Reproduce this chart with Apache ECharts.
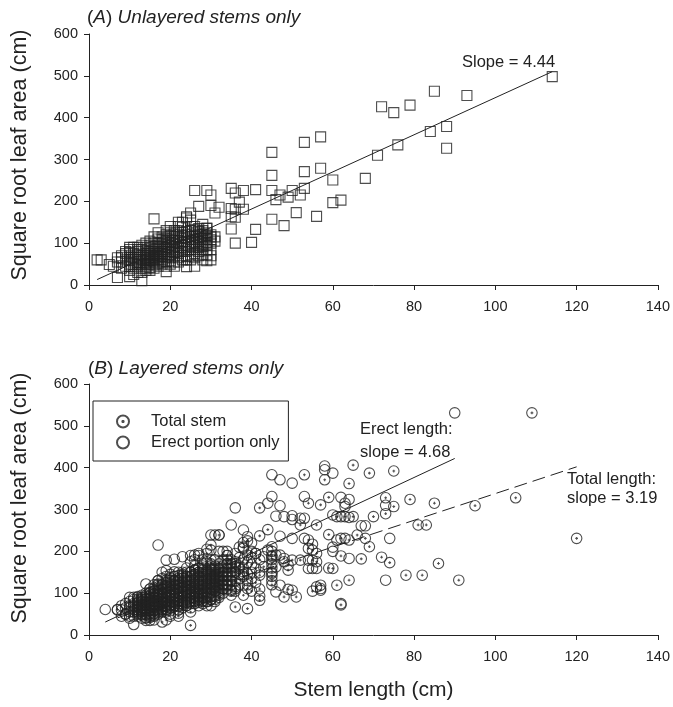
<!DOCTYPE html>
<html><head><meta charset="utf-8">
<script src="https://cdn.jsdelivr.net/npm/echarts@6/dist/echarts.min.js"></script>
<style>html,body{margin:0;padding:0;background:#fff}#c{width:673px;height:707px}</style>
</head><body><div id="c"></div>
<script>
// ---------- DATA ----------
const xTickValues = [0, 20, 40, 60, 80, 100, 120, 140];
const yTickValues = [0, 100, 200, 300, 400, 500, 600];

// Panel A: unlayered stems (stem length, sqrt leaf area)
const unlayeredSparse = [[2,60],[3,60],[5,49],[7,18],[13,10],[16,158],[24,163],[25,172],[26,226],[27,188],[29,226],[30,215],[30,190],[31,172],[32,186],[29,136],[35,231],[36,220],[38,226],[41,228],[37,198],[38,181],[36,181],[35,183],[35,163],[36,162],[35,134],[36,100],[40,102],[41,133],[45,317],[45,262],[45,226],[45,157],[46,204],[47,215],[48,142],[49,210],[50,226],[51,173],[52,215],[53,271],[53,231],[53,341],[56,164],[57,354],[57,279],[60,251],[60,197],[62,203],[68,255],[71,310],[72,426],[75,412],[79,430],[76,335],[85,463],[84,367],[88,379],[88,327],[93,453],[114,498]];
const unlayeredDenseCols = [[6,[45]],[7,[55,65]],[8,[40,55,65,70]],[9,[45,60,75,80]],[10,[20,35,45,50,60,65,70,78,85,90]],[11,[25,40,55,65,75,90]],[12,[30,45,50,55,60,65,72,80,85,90]],[13,[30,40,50,60,70,85,95]],[14,[35,40,45,50,55,60,65,70,75,82,90,100]],[15,[35,42,50,55,60,65,70,75,80,88,95,105]],[16,[40,48,55,60,65,70,75,80,85,92,100,115]],[17,[45,52,60,65,70,75,80,88,95,100,110,125]],[18,[50,55,60,68,75,80,85,92,100,108,115]],[19,[32,45,55,65,72,80,85,90,98,105,112,120,130]],[20,[50,58,65,72,80,88,95,102,110,118,125,140]],[21,[45,55,70,78,85,92,100,108,115,122,130]],[22,[55,65,75,82,90,98,105,112,120,130,140,150]],[23,[60,70,80,88,95,102,110,118,125,138,150]],[24,[44,60,70,80,90,98,105,112,120,128,160]],[25,[60,72,85,92,100,108,115,122,130,140,155]],[26,[45,65,75,85,95,102,110,118,125,132,140]],[27,[70,80,90,98,105,112,120,128,135]],[28,[60,72,85,92,100,108,115,122,130,145]],[29,[58,72,85,95,102,110,118,125,135]],[30,[60,70,85,100,108,115,120]],[31,[105,115]]];
const unlayeredFit = [[2,13],[114,510]];

// Panel B: layered stems
const totalDenseCols = [[7,[61]],[9,[50]],[10,[45,65,80]],[11,[55,70,85]],[12,[45,52,60,68,75,82,90]],[13,[50,58,65,72,80,88,95]],[14,[40,48,55,62,70,78,85,92,100]],[15,[35,42,50,58,65,72,80,88,95,102,110]],[16,[36,45,52,60,68,75,82,90,98,105]],[17,[50,58,65,72,80,88,95,105,115,122,130]],[18,[31,55,62,70,78,85,92,100,110,120]],[19,[36,60,68,75,82,90,100,110,118,125]],[20,[50,58,65,72,80,88,95,105,115,125,135]],[21,[70,78,85,92,100,110,120,130,140]],[22,[45,52,60,68,75,82,90,100,110,120,130]],[23,[65,72,80,88,95,105,115,125,135,142,150]],[24,[70,78,85,95,105,115,125,132,140]],[25,[23,55,65,75,82,90,100,110,120,130,140,150]],[26,[80,88,95,105,115,125,135,145,155,180]],[27,[70,78,85,92,100,110,120,130,140,150,160,190]],[28,[75,82,90,100,110,120,130,140,150,160,170]],[29,[80,88,95,105,115,125,135,145,155,195]],[30,[70,85,100,110,120,130,140,150,160,170,180,215]],[31,[85,95,105,115,125,135,145,155,165]],[32,[90,100,110,120,130,140,150,160,170,239]],[33,[100,110,120,130,140,150,160]],[34,[110,120,130,140,150,160,170,180,190]],[35,[95,108,120,130,140,150,160,170,180]],[36,[67,105,111,130,150,170]],[37,[120,145,165,185]],[38,[95,140,151,160,210]],[39,[63,111,120,147,173,225]],[40,[105,135,169,200]],[41,[125,160,195]],[42,[83,93,110,143,150,180,237,304]],[43,[163]],[44,[252]],[45,[120,130,140,150,160,170,180,190,200,211]]];
const totalSparse = [[46,163],[46,191],[48,91],[48,183],[49,109],[49,155],[49,167],[50,107],[50,179],[51,91],[52,179],[52,263],[53,383],[54,207],[54,227],[54,315],[55,105],[55,179],[55,203],[55,217],[56,115],[56,175],[56,195],[56,263],[57,107],[57,119],[57,311],[58,371],[59,160],[59,240],[59,329],[60,159],[61,119],[61,283],[62,231],[62,72],[62,189],[63,283],[64,131],[64,227],[64,362],[65,283],[65,406],[66,239],[67,182],[68,231],[69,211],[69,387],[70,283],[72,186],[73,290],[73,328],[74,173],[75,307],[75,392],[78,143],[79,324],[81,263],[82,143],[83,263],[85,315],[86,171],[91,131],[95,309],[105,328],[109,531],[120,231]];
const erectDenseCols = [[7,[60]],[8,[45,60,70]],[9,[50,65,75]],[10,[40,55,70,90]],[11,[45,60,75,90]],[12,[50,55,60,65,70,78,85,92]],[13,[40,48,55,60,65,72,80,85,90]],[14,[35,42,50,58,65,70,75,85,95,122]],[15,[45,52,60,65,70,78,85,92,100,110]],[16,[50,58,65,70,75,82,90,98,105,112,120]],[17,[55,62,70,75,80,88,95,102,110,120,130,215]],[18,[60,68,75,80,85,92,100,110,120,135,150]],[19,[55,62,70,80,90,98,105,115,125,132,140,154,179]],[20,[45,65,72,80,88,95,102,110,120,130,138,145]],[21,[70,78,85,92,100,110,120,130,140,151,181]],[22,[60,70,80,88,95,105,115,125,135,142,150]],[23,[75,82,90,98,105,115,125,135,145,187]],[24,[70,78,85,92,100,110,120,130,140,150,160]],[25,[80,88,95,102,110,120,130,140,150,175,190]],[26,[75,82,90,98,105,115,125,135,145,155,165,191]],[27,[85,92,100,110,120,130,140,150,160,195]],[28,[80,88,95,105,115,125,135,145,155,165,180]],[29,[70,80,90,100,110,120,130,140,150,175,205]],[30,[85,92,100,112,125,135,145,155,165,203,239]],[31,[80,92,105,112,120,130,140,150,160,180,239]],[32,[95,105,115,125,135,145,155,200,239]],[33,[110,120,130,140,150,165,180,200]],[34,[120,145,170,190,200]],[35,[105,130,165,263]],[36,[115,150,163,175,195,304]],[37,[135,160,210]],[38,[145,180,207,221,251]],[39,[130,191,235]],[40,[150,185,220]]];
const erectSparse = [[4,61],[11,25],[41,195],[43,187],[44,203],[44,315],[45,147],[45,187],[45,331],[45,383],[46,103],[46,284],[47,119],[47,191],[47,236],[47,309],[47,371],[48,175],[48,283],[50,231],[50,276],[50,285],[50,363],[52,279],[53,231],[53,279],[53,331],[54,159],[54,179],[55,159],[56,159],[57,111],[58,395],[58,404],[60,200],[60,210],[60,287],[60,387],[61,227],[62,75],[62,283],[62,329],[63,231],[63,307],[63,315],[64,183],[64,281],[64,324],[67,261],[68,261],[73,131],[73,310],[74,231],[90,531]];
const erectFit = [[4,31],[90,422]];
const totalFit = [[7,41],[120,402]];

// ---------- BUILD ----------
const expand = cols => cols.flatMap(([x, ys]) => ys.map(y => [x, y]));
const unlayered = expand(unlayeredDenseCols).concat(unlayeredSparse);
const totalStem = expand(totalDenseCols).concat(totalSparse);
const erectOnly = expand(erectDenseCols).concat(erectSparse);

const FONT = 'Liberation Sans, Arial, Helvetica, sans-serif';
const INK = '#222';

function xAxis(gi, name) {
  return {
    type: 'value', gridIndex: gi, min: xTickValues[0], max: xTickValues[xTickValues.length - 1],
    interval: xTickValues[1] - xTickValues[0],
    name: name || '', nameLocation: 'middle', nameGap: 45,
    nameTextStyle: { fontSize: 21, color: INK, fontFamily: FONT },
    axisLine: { show: true, onZero: false, lineStyle: { color: INK, width: 1 } },
    axisTick: { show: true, length: 5, lineStyle: { color: INK, width: 1 } },
    axisLabel: { fontSize: 14.5, color: INK, margin: 14, fontFamily: FONT },
    splitLine: { show: false }
  };
}
function yAxis(gi, shift) {
  return {
    type: 'value', gridIndex: gi, min: yTickValues[0], max: yTickValues[yTickValues.length - 1],
    interval: yTickValues[1] - yTickValues[0],
    name: 'Square root leaf area (cm)', nameLocation: 'middle', nameGap: 58,
    nameTextStyle: { fontSize: 21.5, color: INK, fontFamily: FONT, padding: [0, 0, 0, shift] },
    axisLine: { show: true, onZero: false, lineStyle: { color: INK, width: 1 } },
    axisTick: { show: true, length: 5, lineStyle: { color: INK, width: 1 } },
    axisLabel: { fontSize: 14.5, color: INK, margin: 11, fontFamily: FONT },
    splitLine: { show: false }
  };
}
const markerStyle = { color: 'transparent', borderColor: INK, borderWidth: 1.1 };
const dotCircle = 'path://M10,0A10,10,0,1,1,-10,0A10,10,0,1,1,10,0ZM-2.6,0L2.6,0M0,-2.6L0,2.6';
const titleRich = {
  n: { fontSize: 19, fontWeight: 'normal', fontFamily: FONT, color: INK, lineHeight: 22 },
  i: { fontSize: 19, fontWeight: 'normal', fontStyle: 'italic', fontFamily: FONT, color: INK, lineHeight: 22 }
};

const chart = echarts.init(document.getElementById('c'), null, { renderer: 'canvas' });
chart.setOption({
  animation: false,
  backgroundColor: '#fff',
  title: [
    { text: '{n|(}{i|A}{n|) }{i|Unlayered stems only}', left: 87, top: 7, padding: 0,
      textStyle: { fontWeight: 'normal', rich: titleRich } },
    { text: '{n|(}{i|B}{n|) }{i|Layered stems only}', left: 88, top: 358, padding: 0,
      textStyle: { fontWeight: 'normal', rich: titleRich } }
  ],
  grid: [
    { left: 89, top: 34, width: 570, height: 251 },
    { left: 89, top: 384, width: 570, height: 251 }
  ],
  xAxis: [xAxis(0), xAxis(1, 'Stem length (cm)')],
  yAxis: [yAxis(0, 9), yAxis(1, 23)],
  legend: {
    data: ['Total stem', 'Erect portion only'],
    left: 93, top: 401, orient: 'vertical',
    padding: [12, 9, 10, 23], itemWidth: 12, itemHeight: 12, itemGap: 4,
    borderColor: INK, borderWidth: 1, borderRadius: 0, backgroundColor: '#fff',
    textStyle: { fontSize: 16.5, color: INK, fontFamily: FONT, padding: [0, 0, 0, 17] },
    selectedMode: false
  },
  series: [
    { name: 'Unlayered', type: 'scatter', xAxisIndex: 0, yAxisIndex: 0, data: unlayered,
      symbol: 'rect', symbolSize: 10, itemStyle: markerStyle, silent: true },
    { name: 'Unlayered fit', type: 'line', xAxisIndex: 0, yAxisIndex: 0, data: unlayeredFit,
      symbol: 'none', lineStyle: { color: INK, width: 1 }, silent: true },
    { name: 'Total stem', type: 'scatter', xAxisIndex: 1, yAxisIndex: 1, data: totalStem,
      symbol: dotCircle, symbolSize: 10.5, itemStyle: markerStyle, silent: true },
    { name: 'Erect portion only', type: 'scatter', xAxisIndex: 1, yAxisIndex: 1, data: erectOnly,
      symbol: 'circle', symbolSize: 10.5, itemStyle: markerStyle, silent: true },
    { name: 'Erect fit', type: 'line', xAxisIndex: 1, yAxisIndex: 1, data: erectFit,
      symbol: 'none', lineStyle: { color: INK, width: 1 }, silent: true },
    { name: 'Total fit', type: 'line', xAxisIndex: 1, yAxisIndex: 1, data: totalFit,
      symbol: 'none', lineStyle: { color: INK, width: 1, type: [13, 6] }, silent: true }
  ],
  graphic: [
    { type: 'text', x: 462, y: 62, style: { text: 'Slope = 4.44', fontSize: 16.5, fontFamily: FONT, fill: INK, verticalAlign: 'middle' } },
    { type: 'text', x: 360, y: 429, style: { text: 'Erect length:', fontSize: 16.5, fontFamily: FONT, fill: INK, verticalAlign: 'middle' } },
    { type: 'text', x: 360, y: 452, style: { text: 'slope = 4.68', fontSize: 16.5, fontFamily: FONT, fill: INK, verticalAlign: 'middle' } },
    { type: 'text', x: 567, y: 479, style: { text: 'Total length:', fontSize: 16.5, fontFamily: FONT, fill: INK, verticalAlign: 'middle' } },
    { type: 'text', x: 567, y: 498, style: { text: 'slope = 3.19', fontSize: 16.5, fontFamily: FONT, fill: INK, verticalAlign: 'middle' } }
  ]
});
</script>
</body></html>
